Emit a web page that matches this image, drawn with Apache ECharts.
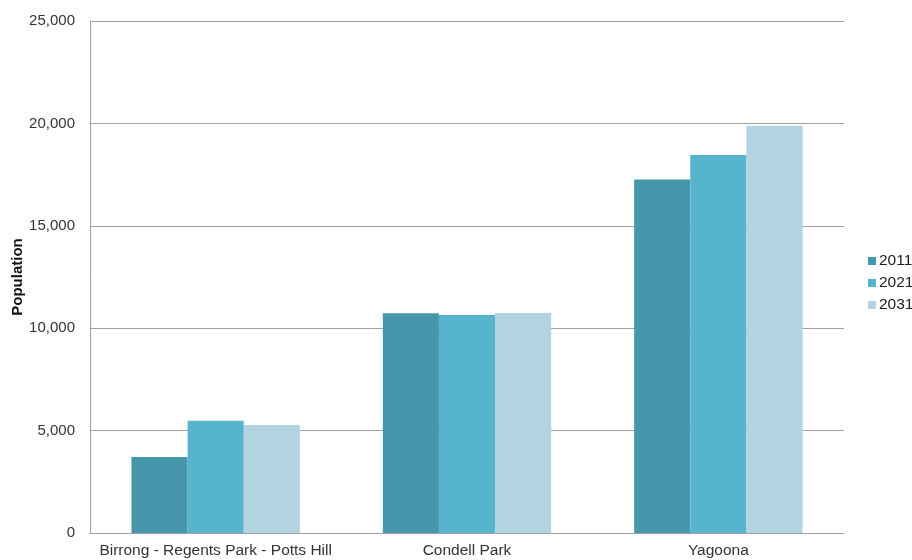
<!DOCTYPE html>
<html>
<head>
<meta charset="utf-8">
<script src="https://cdn.jsdelivr.net/npm/echarts@6/dist/echarts.min.js"></script>
<style>
html,body{margin:0;padding:0;background:#fff;}
#chart{width:912px;height:560px;}
</style>
</head>
<body>
<div id="chart"></div>
<script>
const categories = ["Birrong - Regents Park - Potts Hill", "Condell Park", "Yagoona"];
const seriesNames = ["2011", "2021", "2031"];
const values2011 = [3710, 10730, 17260];
const values2021 = [5480, 10640, 18460];
const values2031 = [5270, 10740, 19880];
const yTicks = [0, 5000, 10000, 15000, 20000, 25000];

const colors = ["#4697AB", "#56B4CD", "#B1D4E0"];
const font = "Arial, 'Liberation Sans', sans-serif";
const chart = echarts.init(document.getElementById('chart'));
const dataSets = [values2011, values2021, values2031];

chart.setOption({
  animation: false,
  color: colors,
  grid: { left: 90, right: 68, top: 21, bottom: 27, containLabel: false, outerBoundsMode: 'none' },
  legend: {
    orient: 'vertical',
    left: 863,
    top: 248,
    itemWidth: 8,
    itemHeight: 8,
    itemGap: 6,
    icon: 'rect',
    textStyle: { fontFamily: font, fontSize: 15.5, color: '#222', padding: [0,0,0,-2] },
    data: seriesNames
  },
  xAxis: {
    type: 'category',
    data: categories,
    axisLine: { lineStyle: { color: '#A0A0A0' } },
    axisTick: { show: false },
    axisLabel: { fontFamily: font, fontSize: 15.5, color: '#333', margin: 10, interval: 0 }
  },
  yAxis: {
    type: 'value',
    min: yTicks[0],
    max: yTicks[yTicks.length - 1],
    interval: 5000,
    name: 'Population',
    nameLocation: 'middle',
    nameGap: 65,
    nameMoveOverlap: false,
    nameTextStyle: { fontFamily: font, fontSize: 15, fontWeight: 'bold', color: '#111' },
    axisLine: { show: true, lineStyle: { color: '#A0A0A0' } },
    axisTick: { show: false },
    splitLine: { lineStyle: { color: '#A0A0A0' } },
    axisLabel: {
      fontFamily: font, fontSize: 15, color: '#333', margin: 15,
      formatter: v => v.toLocaleString('en-US')
    }
  },
  series: seriesNames.map((n, i) => ({
    name: n,
    type: 'bar',
    data: dataSets[i],
    barGap: '0%',
    barCategoryGap: '33%',
    itemStyle: { color: colors[i] }
  }))
});
</script>
</body>
</html>
